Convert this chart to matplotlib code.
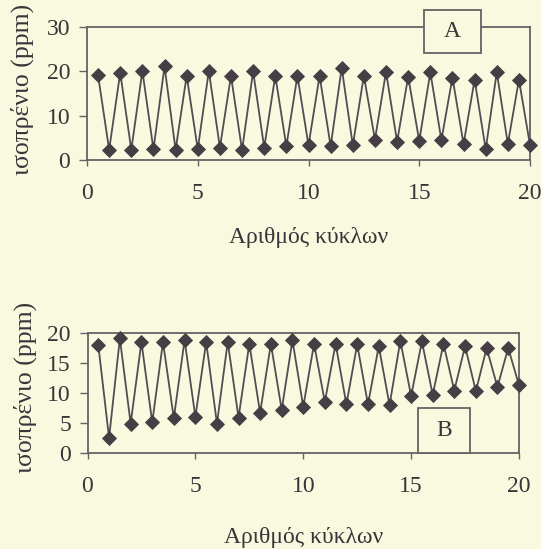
import matplotlib
matplotlib.use("Agg")
import matplotlib.pyplot as plt
from matplotlib.patches import Rectangle

plt.rcParams['font.family'] = ['Liberation Serif', 'DejaVu Serif']

# Cycle positions: loaded state at half cycles, purged state at whole cycles
x_high = [0.5, 1.5, 2.5, 3.5, 4.5, 5.5, 6.5, 7.5, 8.5, 9.5,
          10.5, 11.5, 12.5, 13.5, 14.5, 15.5, 16.5, 17.5, 18.5, 19.5]
x_low = [1, 2, 3, 4, 5, 6, 7, 8, 9, 10,
         11, 12, 13, 14, 15, 16, 17, 18, 19, 20]

# Panel A: isoprene (ppm)
a_high = [19.1, 19.7, 20.1, 21.1, 19.0, 20.1, 19.0, 20.0, 19.0, 19.0,
          19.0, 20.8, 19.0, 19.9, 18.8, 19.8, 18.6, 18.1, 19.8, 18.1]
a_low = [2.3, 2.3, 2.4, 2.3, 2.4, 2.8, 2.2, 2.8, 3.1, 3.3,
         3.1, 3.3, 4.6, 4.1, 4.3, 4.5, 3.6, 2.4, 3.6, 3.4]

# Panel B: isoprene (ppm)
b_high = [18.0, 19.1, 18.5, 18.5, 18.8, 18.5, 18.5, 18.2, 18.2, 18.8,
          18.2, 18.2, 18.1, 17.8, 18.7, 18.6, 18.2, 17.8, 17.5, 17.5]
b_low = [2.5, 4.9, 5.1, 5.8, 6.0, 4.9, 5.9, 6.7, 7.2, 7.7,
         8.5, 8.1, 8.1, 8.0, 9.5, 9.7, 10.4, 10.3, 11.0, 11.3]

x_ticks = [0, 5, 10, 15, 20]
a_yticks = [0, 10, 20, 30]
b_yticks = [0, 5, 10, 15, 20]
xlabel = "Αριθμός κύκλων"
ylabel = "ισοπρένιο (ppm)"

BG = '#f9f9df'
INK = '#38343a'
FRAME = '#666264'
MARK = '#463e45'
LINE = '#544c53'
FS = 17
FS_Y = 18.5


def interleave(xh, yh, xl, yl):
    xs, ys = [], []
    for a, b, c, d in zip(xh, yh, xl, yl):
        xs += [a, c]
        ys += [b, d]
    return xs, ys


fig = plt.figure(figsize=(5.41, 5.49), dpi=100, facecolor=BG)

W, H = 541, 549


def make_axes(left, right, top, bottom):
    return fig.add_axes([left / W, 1 - bottom / H, (right - left) / W, (bottom - top) / H])


def style(ax, yticks, ylim, ylab_y, xlab_y_px, ax_h_px):
    ax.set_facecolor(BG)
    ax.set_xlim(0, 20)
    ax.set_ylim(*ylim)
    ax.set_xticks(x_ticks)
    ax.set_yticks(yticks)
    for s in ax.spines.values():
        s.set_color(FRAME)
        s.set_linewidth(1.3)
    ax.tick_params(axis='y', direction='out', length=5.5, width=1.0, color=FRAME,
                   pad=6.5, labelsize=FS, labelcolor=INK)
    ax.tick_params(axis='x', direction='out', length=4, width=1.0, color=FRAME,
                   pad=12.5, labelsize=FS, labelcolor=INK)
    ax.set_ylabel(ylabel, fontsize=FS_Y, color=INK, va='center')
    ax.yaxis.set_label_coords(-0.145, ylab_y)
    ax.set_xlabel(xlabel, fontsize=FS, color=INK, va='center')
    ax.xaxis.set_label_coords(0.50, xlab_y_px / ax_h_px)


def panel_box(ax, x0, x1, y0, y1, letter):
    ax.add_patch(Rectangle((x0, y0), x1 - x0, y1 - y0, transform=ax.transAxes,
                           facecolor=BG, edgecolor=FRAME, linewidth=1.3,
                           clip_on=False, zorder=5))
    ax.text((x0 + x1) / 2, (y0 + y1) / 2, letter, transform=ax.transAxes,
            ha='center', va='center', fontsize=FS, color=INK, zorder=6)


def draw_series(ax, yh, yl):
    xs, ys = interleave(x_high, yh, x_low, yl)
    ax.plot(xs, ys, color=LINE, linewidth=1.3, marker='D', markersize=7.2,
            markerfacecolor=MARK, markeredgecolor=MARK, markeredgewidth=0.6,
            clip_on=False, zorder=3)


# Panel A
axA = make_axes(87, 530, 27, 160)
draw_series(axA, a_high, a_low)
style(axA, a_yticks, (0, 30), 0.53, -78, 133)
panel_box(axA, 0.761, 0.889, 0.805, 1.128, 'A')

# Panel B
axB = make_axes(87.5, 519, 333, 453)
draw_series(axB, b_high, b_low)
style(axB, b_yticks, (0, 20), 0.55, -85, 120)
panel_box(axB, 0.766, 0.886, 0.0, 0.375, 'B')

fig.savefig('out.png', dpi=100, facecolor=BG)
